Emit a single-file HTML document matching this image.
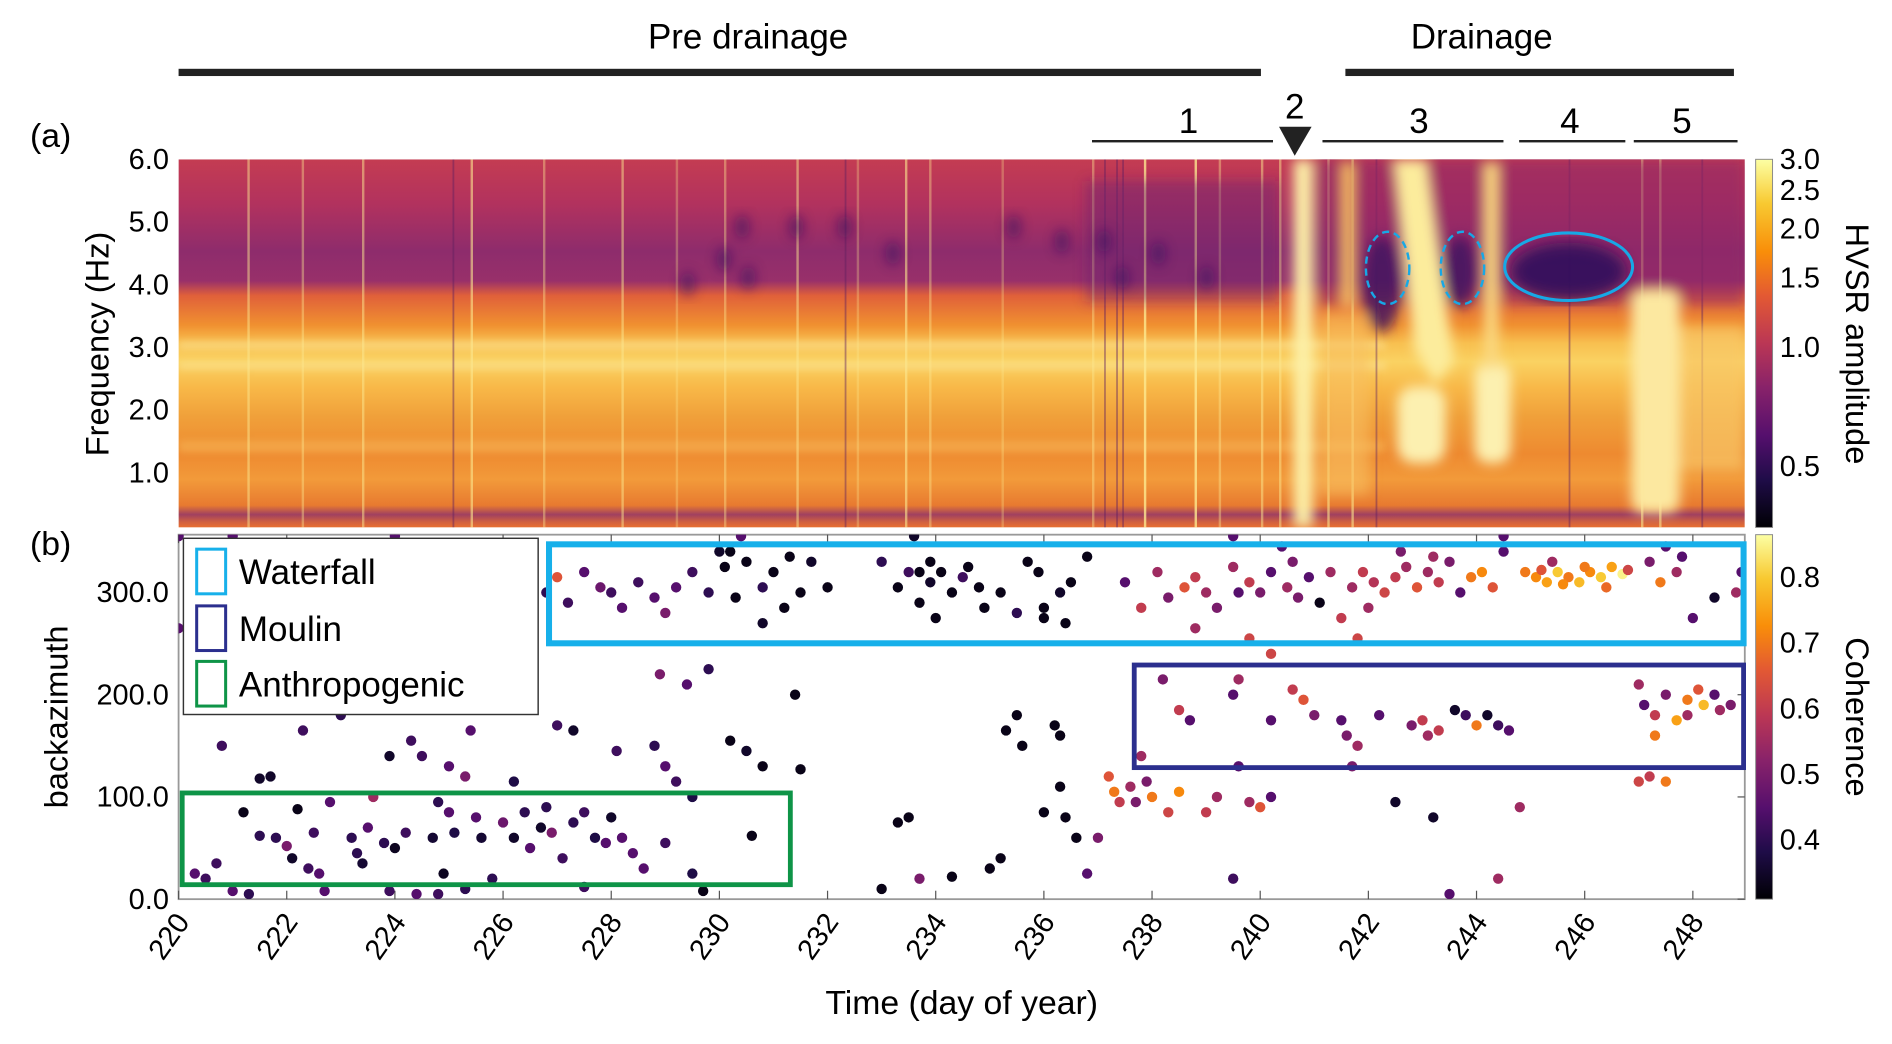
<!DOCTYPE html>
<html><head><meta charset="utf-8"><style>
html,body{margin:0;padding:0;background:#fff;}
svg{display:block;font-family:"Liberation Sans",sans-serif;}
</style></head><body>
<svg id="fig" width="1892" height="1044" viewBox="0 0 1568 865" preserveAspectRatio="none" xmlns="http://www.w3.org/2000/svg">
<defs>
 <linearGradient id="specbase" x1="0" y1="132" x2="0" y2="437" gradientUnits="userSpaceOnUse">
  <stop offset="0" stop-color="#c43c52"/><stop offset="0.12" stop-color="#b2325e"/>
  <stop offset="0.25" stop-color="#8e2c6c"/><stop offset="0.33" stop-color="#98306a"/>
  <stop offset="0.37" stop-color="#e0603a"/><stop offset="0.45" stop-color="#f09030"/>
  <stop offset="0.5" stop-color="#f8c050"/><stop offset="0.55" stop-color="#fad262"/>
  <stop offset="0.62" stop-color="#f8b848"/><stop offset="0.7" stop-color="#f0a03a"/>
  <stop offset="0.8" stop-color="#ee8a30"/><stop offset="0.87" stop-color="#f29a3a"/>
  <stop offset="0.94" stop-color="#e87a30"/><stop offset="0.965" stop-color="#a04060"/>
  <stop offset="0.985" stop-color="#d06040"/><stop offset="1" stop-color="#e87030"/>
 </linearGradient>
 <linearGradient id="inferno" x1="0" y1="1" x2="0" y2="0">
  <stop offset="0" stop-color="#000004"/><stop offset="0.13" stop-color="#1f0c48"/>
  <stop offset="0.25" stop-color="#550f6d"/><stop offset="0.38" stop-color="#88226a"/>
  <stop offset="0.5" stop-color="#ba3655"/><stop offset="0.63" stop-color="#e35933"/>
  <stop offset="0.75" stop-color="#f98e09"/><stop offset="0.88" stop-color="#f8c931"/>
  <stop offset="1" stop-color="#fcffa4"/>
 </linearGradient>
 <filter id="blur3"><feGaussianBlur stdDeviation="3"/></filter>
 <filter id="blur5"><feGaussianBlur stdDeviation="5"/></filter>
 <filter id="blur6"><feGaussianBlur stdDeviation="6"/></filter>
 <clipPath id="clipA"><rect x="148" y="132" width="1298" height="305"/></clipPath>
 <clipPath id="clipB"><rect x="148" y="443" width="1298" height="302"/></clipPath>
</defs>

<text x="620" y="40" font-size="29" text-anchor="middle">Pre drainage</text>
<rect x="148" y="57" width="897" height="6" fill="#222"/>
<text x="1228" y="40" font-size="29" text-anchor="middle">Drainage</text>
<rect x="1115" y="57" width="322" height="6" fill="#222"/>
<g font-size="29" text-anchor="middle">
 <text x="985" y="110">1</text><rect x="905" y="116" width="150" height="2" fill="#222"/>
 <text x="1073" y="98">2</text><polygon points="1060,105 1087,105 1073,129" fill="#222"/>
 <text x="1176" y="110">3</text><rect x="1096" y="116" width="150" height="2" fill="#222"/>
 <text x="1301" y="110">4</text><rect x="1259" y="116" width="88" height="2" fill="#222"/>
 <text x="1394" y="110">5</text><rect x="1354" y="116" width="86" height="2" fill="#222"/>
</g>
<text x="42" y="122" font-size="28" text-anchor="middle">(a)</text>
<text x="42" y="460" font-size="28" text-anchor="middle">(b)</text>

<g clip-path="url(#clipA)">
 <rect x="148" y="132" width="1298" height="305" fill="url(#specbase)"/>
 <g filter="url(#blur3)" opacity="0.55">
  <rect x="148" y="283" width="1000" height="6" fill="#fce7a0"/>
  <rect x="148" y="300" width="1000" height="6" fill="#fce7a0"/>
  <rect x="148" y="365" width="1000" height="10" fill="#f7b858"/>
 </g>
 <g id="vlines"></g>
 <g filter="url(#blur5)">
  <rect x="900" y="150" width="160" height="100" fill="#6a2070" opacity="0.45"/>
  <rect x="1090" y="132" width="356" height="120" fill="#902a68" opacity="0.6"/>
  <rect x="1072" y="132" width="16" height="305" fill="#fcf0a8"/>
  <rect x="1095" y="260" width="40" height="150" fill="#f8c060" opacity="0.6"/>
  <polygon points="1155,132 1182,132 1205,300 1190,318 1172,290" fill="#fcec9c"/>
  <rect x="1158" y="320" width="40" height="64" rx="14" fill="#fcf0b0"/>
  <rect x="1222" y="300" width="30" height="84" rx="12" fill="#fcf0b0"/>
  <rect x="1230" y="135" width="12" height="170" fill="#fad880"/>
  <rect x="1112" y="135" width="10" height="120" fill="#f8c060"/>
  <ellipse cx="1145" cy="235" rx="16" ry="40" fill="#3c1060" opacity="0.8"/>
  <ellipse cx="1210" cy="225" rx="14" ry="30" fill="#3c1060" opacity="0.8"/>
  <rect x="1352" y="240" width="40" height="185" rx="10" fill="#fce8a0"/>
  <rect x="1392" y="270" width="54" height="120" fill="#f8c868" opacity="0.7"/>
 </g>
 <ellipse cx="1300" cy="225" rx="48" ry="24" fill="#2a0a5c" opacity="0.85" filter="url(#blur6)"/>
 <g id="darkdots" fill="#3a1060" opacity="0.6" filter="url(#blur5)"></g>
</g>
<g fill="none" stroke="#17a8e6">
 <ellipse cx="1150" cy="222" rx="18" ry="30" stroke-width="2" stroke-dasharray="6,4"/>
 <ellipse cx="1212" cy="222" rx="18" ry="30" stroke-width="2" stroke-dasharray="6,4"/>
 <ellipse cx="1300" cy="221" rx="53" ry="28" stroke-width="2.5"/>
</g>
<g id="yaxisA" font-size="24" text-anchor="end"></g>
<text transform="translate(90,285) rotate(-90)" font-size="27" text-anchor="middle">Frequency (Hz)</text>
<rect x="1455" y="132" width="14" height="305" fill="url(#inferno)" stroke="#888" stroke-width="0.8"/>
<g id="cbA" font-size="24"></g>
<text transform="translate(1530,285) rotate(90)" font-size="27" text-anchor="middle">HVSR amplitude</text>

<rect x="148" y="443" width="1298" height="302" fill="#fff" stroke="#999" stroke-width="1.5"/>
<g id="ticksB"></g>
<g id="yaxisB" font-size="24" text-anchor="end"></g>
<text transform="translate(56,594) rotate(-90)" font-size="27" text-anchor="middle">backazimuth</text>
<g id="points" clip-path="url(#clipB)"></g>
<rect x="455" y="451" width="990" height="82" fill="none" stroke="#17b0ea" stroke-width="5"/>
<rect x="940" y="551" width="505" height="85" fill="none" stroke="#2b2f8e" stroke-width="4"/>
<rect x="151" y="657" width="504" height="76" fill="none" stroke="#0e9447" stroke-width="4"/>
<g>
 <rect x="152" y="446" width="294" height="146" fill="#fff" stroke="#333" stroke-width="1.2"/>
 <rect x="163" y="455" width="24" height="37" fill="none" stroke="#17b0ea" stroke-width="2.5"/>
 <text x="198" y="484" font-size="29">Waterfall</text>
 <rect x="163" y="502" width="24" height="37" fill="none" stroke="#2b2f8e" stroke-width="2.5"/>
 <text x="198" y="531" font-size="29">Moulin</text>
 <rect x="163" y="548" width="24" height="37" fill="none" stroke="#0e9447" stroke-width="2.5"/>
 <text x="198" y="577" font-size="29">Anthropogenic</text>
</g>
<text x="797" y="840" font-size="28" text-anchor="middle">Time (day of year)</text>
<rect x="1455" y="443" width="14" height="302" fill="url(#inferno)" stroke="#888" stroke-width="0.8"/>
<g id="cbB" font-size="24"></g>
<text transform="translate(1530,594) rotate(90)" font-size="27" text-anchor="middle">Coherence</text>
</svg>
<script>
const dayTicks=[220,222,224,226,228,230,232,234,236,238,240,242,244,246,248];
const freqTicks=[1.0,2.0,3.0,4.0,5.0,6.0];
const bazTicks=[0,100,200,300];
const hvsrTicks=[0.5,1.0,1.5,2.0,2.5,3.0];
const cohTicks=[0.4,0.5,0.6,0.7,0.8];
const ptDay=[220.3,220.5,220.7,221.0,221.2,221.5,221.7,221.8,222.0,222.1,222.2,222.4,222.5,222.6,223.0,223.2,223.3,223.4,223.5,223.6,223.8,224.0,224.2,224.4,224.5,224.7,224.9,225.0,225.1,225.3,225.5,225.6,225.8,226.0,226.2,226.4,226.5,226.7,226.9,227.1,227.3,227.5,227.7,227.9,228.0,228.2,228.4,228.6,229.0,229.5,230.6,
220.8,221.5,222.3,222.8,223.9,224.3,224.8,225.0,225.4,226.2,226.8,227.0,227.3,228.1,228.8,229.0,229.2,229.5,229.8,230.2,230.5,230.8,231.4,231.5,229.4,228.9,226.0,
223.9,224.8,225.3,229.7,222.7,221.3,227.5,
233.0,233.3,233.5,233.7,234.3,235.0,235.2,235.3,235.5,235.6,236.0,236.2,236.3,236.3,236.4,236.6,
236.8,237.0,237.2,237.3,237.4,237.6,237.7,237.8,238.0,238.3,238.5,239.0,239.2,239.8,240.0,240.2,239.5,244.4,243.5,242.5,243.2,244.8,247.0,247.2,247.5,
238.2,238.5,238.7,239.5,239.6,239.6,240.2,240.6,240.8,241.0,241.5,241.6,241.8,242.2,242.8,243.0,243.1,243.3,243.6,243.8,244.0,244.2,244.4,244.6,247.0,247.1,247.3,247.5,247.7,247.9,248.1,248.2,248.4,248.5,248.7,247.3,247.9,241.7,237.9,
226.8,227.0,227.2,227.5,227.8,228.0,228.2,228.5,228.8,229.0,229.2,229.5,229.8,230.0,230.1,230.3,230.5,230.8,230.8,231.0,231.2,231.5,231.7,232.0,231.3,230.2,
233.0,233.3,233.5,233.7,233.9,234.1,234.3,234.5,234.8,235.2,235.5,236.0,236.3,236.5,236.0,236.4,234.0,234.6,235.7,233.9,235.9,234.9,233.7,236.8,
237.5,237.8,238.1,238.3,238.6,238.8,239.0,239.2,239.5,239.8,240.0,240.2,240.5,240.7,240.9,241.1,241.3,241.5,238.8,239.8,240.2,240.4,239.6,240.6,
241.7,241.9,242.1,242.3,242.5,242.7,242.9,243.1,243.3,243.5,243.7,243.9,244.1,244.3,242.0,242.6,243.2,241.8,244.5,
244.9,245.1,245.3,245.5,245.7,245.9,246.1,246.3,246.5,246.7,245.2,245.6,246.0,246.4,246.8,245.4,247.2,247.4,247.8,248.0,248.4,248.8,248.9,247.7,247.5,
220.0,220.0,221.0,224.0,230.4,233.6,239.5,244.5];
const ptBaz=[25,20,35,8,85,62,120,60,52,40,88,30,65,25,180,60,45,35,70,100,55,50,65,5,140,60,25,85,65,120,80,60,20,75,60,85,50,70,65,40,75,85,60,55,80,60,45,30,55,25,62,
150,118,165,95,140,155,95,130,165,115,90,170,165,145,150,130,115,100,225,155,145,130,200,127,210,220,205,
8,5,10,8,8,5,12,
10,75,80,20,22,30,40,165,180,150,85,170,160,110,80,60,
25,60,120,105,95,110,95,140,100,85,105,85,100,95,90,100,20,20,5,95,80,90,115,120,115,
215,185,175,200,215,130,175,205,195,180,175,160,150,180,170,175,160,165,185,180,170,180,170,165,210,190,180,200,175,195,205,190,200,185,190,160,180,130,115,
300,315,290,320,305,300,285,310,295,280,305,320,300,340,325,295,330,305,270,320,285,300,330,305,335,340,
330,305,320,290,310,320,300,315,305,300,280,285,300,310,275,270,275,325,330,330,320,285,320,335,
310,285,320,295,305,315,300,285,325,310,300,320,305,295,315,290,320,275,265,255,240,345,300,330,
305,320,310,300,315,325,305,320,310,330,300,315,320,305,285,340,335,255,340,
320,315,310,320,315,310,320,315,325,318,322,308,325,305,322,330,330,310,335,275,295,300,320,320,345,
355,265,355,355,355,355,355,355];
const ptCoh=[.45,.42,.42,.45,.33,.4,.35,.4,.5,.35,.33,.42,.42,.45,.4,.4,.4,.36,.45,.55,.4,.34,.42,.45,.42,.36,.34,.45,.38,.5,.45,.36,.4,.48,.35,.4,.45,.35,.5,.42,.4,.42,.38,.45,.35,.45,.45,.45,.42,.38,.33,
.42,.35,.42,.45,.35,.42,.4,.45,.45,.38,.4,.42,.35,.42,.4,.45,.42,.38,.4,.33,.35,.33,.33,.33,.45,.5,.55,
.42,.42,.4,.33,.45,.4,.42,
.33,.33,.33,.5,.33,.33,.33,.33,.33,.33,.33,.33,.33,.33,.33,.33,
.45,.5,.65,.7,.6,.55,.5,.55,.7,.62,.72,.6,.55,.55,.65,.45,.42,.55,.45,.35,.35,.55,.62,.6,.7,
.5,.6,.45,.45,.55,.45,.45,.6,.65,.5,.45,.5,.55,.45,.5,.6,.55,.6,.35,.42,.7,.35,.42,.45,.55,.45,.6,.5,.75,.7,.65,.78,.45,.55,.5,.7,.55,.5,.5,
.4,.65,.42,.45,.48,.42,.45,.42,.45,.5,.45,.42,.4,.35,.33,.33,.33,.4,.35,.33,.33,.33,.35,.33,.33,.33,
.4,.33,.42,.33,.35,.33,.33,.42,.33,.33,.4,.33,.35,.33,.33,.33,.33,.33,.33,.33,.33,.33,.33,.33,
.45,.6,.55,.5,.65,.6,.55,.5,.55,.6,.5,.45,.55,.5,.45,.33,.55,.6,.55,.62,.62,.45,.45,.5,
.55,.6,.58,.62,.6,.55,.65,.55,.6,.5,.45,.7,.72,.65,.55,.5,.55,.62,.45,
.7,.72,.75,.8,.7,.78,.72,.8,.75,.85,.65,.72,.7,.68,.62,.55,.5,.7,.45,.45,.35,.55,.45,.55,.45,
.45,.45,.45,.45,.45,.35,.45,.45];

const NS='http://www.w3.org/2000/svg';
const xS=d=>148+(d-220)*44.82;
const yF=f=>443.5-f*51.9;
const yB=b=>745-b*0.847;
const cbAy=v=>437-(Math.log(v)-Math.log(0.35))/(Math.log(3.0)-Math.log(0.35))*305;
const cbBy=c=>745-(c-0.31)/(0.865-0.31)*302;
function mk(tag,attrs,parent){const e=document.createElementNS(NS,tag);for(const k in attrs)e.setAttribute(k,attrs[k]);parent.appendChild(e);return e;}
const inf=[[0,0,0,4],[.13,31,12,72],[.25,85,15,109],[.38,136,34,106],[.5,186,54,85],[.63,227,89,51],[.75,249,142,9],[.88,248,201,49],[1,252,255,164]];
function infCol(t){t=Math.max(0,Math.min(1,t));for(let i=1;i<inf.length;i++){if(t<=inf[i][0]){const a=inf[i-1],b=inf[i],u=(t-a[0])/(b[0]-a[0]);return `rgb(${Math.round(a[1]+u*(b[1]-a[1]))},${Math.round(a[2]+u*(b[2]-a[2]))},${Math.round(a[3]+u*(b[3]-a[3]))})`;}}return 'rgb(252,255,164)';}

const vl=document.getElementById('vlines');
[[205,.5],[250,.4],[300,.5],[390,.6],[450,.4],[515,.5],[560,.3],[600,.4],[660,.5],[710,.3],[750,.6],[770,.4],[830,.3],[905,.4],[948,.8],[990,.8],[1010,.4],[1045,.5],[1060,.5],[1100,.6],[1120,.6],[1360,.6],[1375,.6]].forEach(p=>mk('rect',{x:p[0],y:132,width:2,height:305,fill:'#fce890',opacity:p[1]},vl));
[375,700,915,925,930,1140,1300,1410].forEach(x=>mk('rect',{x:x,y:132,width:1.5,height:305,fill:'#602060',opacity:0.45},vl));
const dd=document.getElementById('darkdots');
[[615,188],[660,188],[700,188],[740,210],[840,188],[880,200],[915,200],[930,230],[960,210],[620,230],[570,235],[600,215],[1000,230]].forEach(p=>mk('ellipse',{cx:p[0],cy:p[1],rx:6,ry:10},dd));

const ya=document.getElementById('yaxisA');
freqTicks.forEach(f=>{const t=mk('text',{x:140,y:yF(f)+8},ya);t.textContent=f.toFixed(1);});
const ca=document.getElementById('cbA');
hvsrTicks.forEach(v=>{const t=mk('text',{x:1475,y:cbAy(v)+8},ca);t.textContent=v.toFixed(1);});
const yb=document.getElementById('yaxisB');
bazTicks.forEach(b=>{const t=mk('text',{x:140,y:yB(b)+8},yb);t.textContent=b.toFixed(1);
 mk('line',{x1:1440,x2:1446,y1:yB(b),y2:yB(b),stroke:'#555'},yb);});
const tb=document.getElementById('ticksB');
dayTicks.forEach(d=>{const x=xS(d);
 mk('line',{x1:x,x2:x,y1:745,y2:738,stroke:'#555'},tb);
 mk('line',{x1:x,x2:x,y1:443,y2:450,stroke:'#555'},tb);
 const t=mk('text',{x:0,y:0,'font-size':24,'text-anchor':'end',transform:`translate(${x+10},${764}) rotate(-55)`},tb);
 t.textContent=d;});
const cb=document.getElementById('cbB');
cohTicks.forEach(c=>{const t=mk('text',{x:1475,y:cbBy(c)+8},cb);t.textContent=c.toFixed(1);});
const pg=document.getElementById('points');
for(let i=0;i<ptDay.length;i++){
 const c=mk('circle',{cx:xS(ptDay[i]),cy:yB(ptBaz[i]),r:4.3,fill:infCol((ptCoh[i]-0.31)/(0.865-0.31))},pg);
 
 
}
</script>
</body></html>
